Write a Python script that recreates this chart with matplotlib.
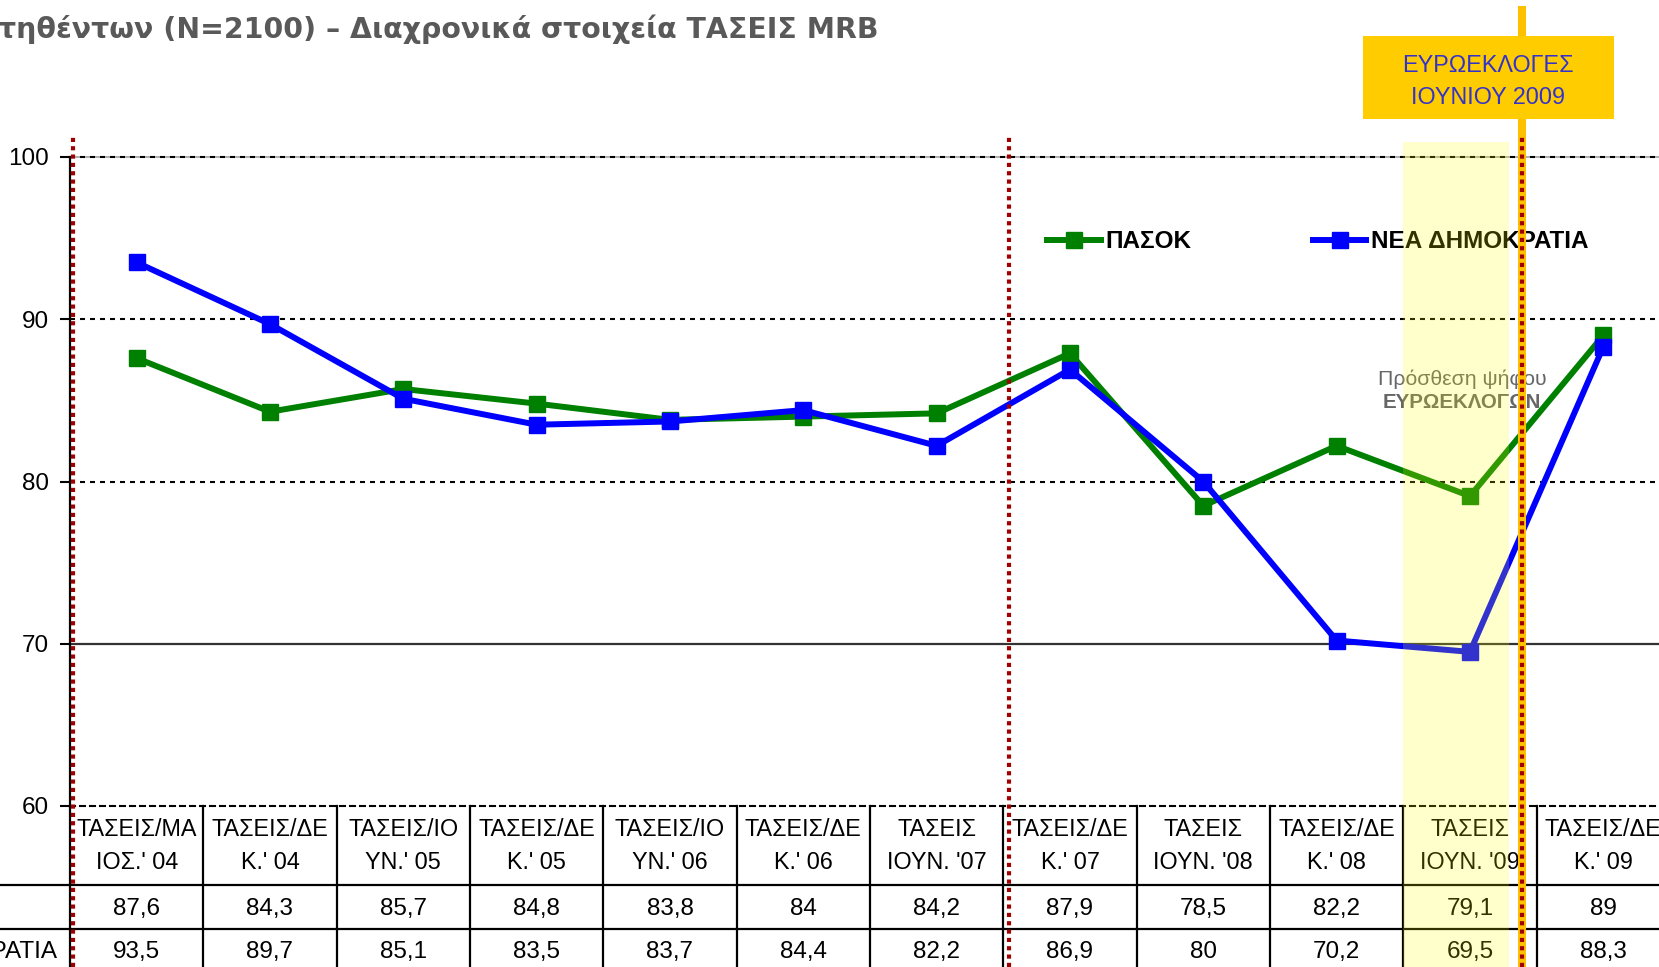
import matplotlib
matplotlib.use("Agg")
import matplotlib.pyplot as plt
from matplotlib.lines import Line2D
from matplotlib.patches import Rectangle
from matplotlib.transforms import blended_transform_factory

# ---------------- data ----------------
categories = ["ΤΑΣΕΙΣ/ΜΑ\nΙΟΣ.' 04", "ΤΑΣΕΙΣ/ΔΕ\nΚ.' 04", "ΤΑΣΕΙΣ/ΙΟ\nΥΝ.' 05",
              "ΤΑΣΕΙΣ/ΔΕ\nΚ.' 05", "ΤΑΣΕΙΣ/ΙΟ\nΥΝ.' 06", "ΤΑΣΕΙΣ/ΔΕ\nΚ.' 06",
              "ΤΑΣΕΙΣ\nΙΟΥΝ. '07", "ΤΑΣΕΙΣ/ΔΕ\nΚ.' 07", "ΤΑΣΕΙΣ\nΙΟΥΝ. '08",
              "ΤΑΣΕΙΣ/ΔΕ\nΚ.' 08", "ΤΑΣΕΙΣ\nΙΟΥΝ. '09", "ΤΑΣΕΙΣ/ΔΕ\nΚ.' 09"]
pasok = [87.6, 84.3, 85.7, 84.8, 83.8, 84, 84.2, 87.9, 78.5, 82.2, 79.1, 89]
nd = [93.5, 89.7, 85.1, 83.5, 83.7, 84.4, 82.2, 86.9, 80, 70.2, 69.5, 88.3]
series_names = ["ΠΑΣΟΚ", "ΝΕΑ ΔΗΜΟΚΡΑΤΙΑ"]
yticks = [60, 70, 80, 90, 100]
title = "τηθέντων (N=2100) – Διαχρονικά στοιχεία ΤΑΣΕΙΣ MRB"
box_text = "ΕΥΡΩΕΚΛΟΓΕΣ\nΙΟΥΝΙΟΥ 2009"
note_lines = ["Πρόσθεση ψήφου", "ΕΥΡΩΕΚΛΟΓΩΝ"]
highlight_idx = 10

# ---------------- layout ----------------
W, H = 1659, 967
FONT = ["Liberation Sans", "DejaVu Sans"]
plt.rcParams["font.family"] = FONT

def fx(px):
    return px / W

def fy(py):
    return 1 - py / H

fig = plt.figure(figsize=(W / 100, H / 100), dpi=100)
fig.patch.set_facecolor("white")

top_px, bot_px, left_px, colw = 157, 806, 70, 133.33
n = len(categories)
ax = fig.add_axes([fx(left_px), fy(bot_px), n * colw / W, (bot_px - top_px) / H])
ax.set_xlim(0, n)
ax.set_ylim(60, 100)
ax.set_facecolor("none")

for s in ["top", "right"]:
    ax.spines[s].set_visible(False)
ax.spines["left"].set_linewidth(1.6)
ax.spines["left"].set_color("black")
ax.spines["bottom"].set_linestyle((0, (2.4, 2.4)))
ax.spines["bottom"].set_linewidth(1.5)
ax.set_xticks([])
ax.set_yticks(yticks)
ax.set_yticklabels([str(t) for t in yticks])
ax.tick_params(axis="y", length=7, width=1.5, pad=8, labelsize=17.5)

# gridlines
dot = (0, (2.4, 2.4))
ax.axhline(100, color="#A0A0A0", lw=1.2, zorder=1, clip_on=False)
for g in [80, 90, 100]:
    ax.axhline(g, color="black", lw=1.5, ls=dot, zorder=1, clip_on=False)
ax.axhline(70, color="#333333", lw=1.6, zorder=1)

x = [i + 0.5 for i in range(n)]
ax.plot(x, pasok, color="#008000", lw=4.3, marker="s", ms=11, label=series_names[0], zorder=3)
ax.plot(x, nd, color="#0000FF", lw=4.3, marker="s", ms=11, label=series_names[1], zorder=4)

leg = ax.legend(loc="center left", bbox_to_anchor=((1035 - left_px) / (n * colw), (bot_px - 242) / (bot_px - top_px)),
                ncol=2, frameon=False, borderpad=0, handlelength=2.2, handletextpad=0.2,
                columnspacing=5.0, prop={"weight": "bold", "size": 17.5})

# annotation
ax.text(10.44, 86.3, note_lines[0], ha="center", va="center", fontsize=15.3, color="#666666", zorder=5)
ax.text(10.44, 84.84, note_lines[1], ha="center", va="center", fontsize=14.8, color="#666666",
        weight="bold", zorder=5)

# ---------------- table ----------------
tab = fig.add_axes([fx(left_px), 0, n * colw / W, (H - bot_px) / H])
tab.set_xlim(0, n)
tab.set_ylim(H, bot_px)
tab.axis("off")
row_lines = [885, 929]
for ry in row_lines:
    tab.plot([-left_px / colw, n], [ry, ry], color="black", lw=1.6, clip_on=False)
for b in range(1, n):
    tab.plot([b, b], [bot_px, H], color="black", lw=1.6, clip_on=False)
tab.plot([0, 0], [bot_px, H], color="black", lw=1.6, clip_on=False)

for i, lab in enumerate(categories):
    l1, l2 = lab.split("\n")
    tab.text(i + 0.5, 830, l1, ha="center", va="center", fontsize=16.8)
    tab.text(i + 0.5, 863, l2, ha="center", va="center", fontsize=16.8)

def fmt(v):
    return f"{v:g}".replace(".", ",")

for i in range(n):
    tab.text(i + 0.5, 909, fmt(pasok[i]), ha="center", va="center", fontsize=17.5)
    tab.text(i + 0.5, 952, fmt(nd[i]), ha="center", va="center", fontsize=17.5)
for name, ry in zip(series_names, [909, 952]):
    tab.text(-0.88, ry, name, ha="center", va="center", fontsize=17.5, clip_on=False)

# ---------------- overlays spanning chart + table ----------------
bt = blended_transform_factory(ax.transData, fig.transFigure)
fig.add_artist(Rectangle((highlight_idx, 0), 0.795, fy(142), transform=bt,
                         facecolor="#FFFF00", alpha=0.2, edgecolor="none", zorder=5))
event_x = 10.89
fig.add_artist(Line2D([event_x, event_x], [0, fy(6)], transform=bt, color="#FFC000", lw=5.8,
                      solid_capstyle="butt", zorder=6))
for vx in [0.02, 7.04, event_x]:
    fig.add_artist(Line2D([vx, vx], [0, fy(136)], transform=bt, color="#A00000", lw=3.0,
                          ls=(0, (1, 1)), zorder=7))

# event box
fig.add_artist(Rectangle((fx(1363), fy(119)), fx(1614) - fx(1363), fy(36) - fy(119),
                         transform=fig.transFigure, facecolor="#FFCC00", edgecolor="none", zorder=8))
b1, b2 = box_text.split("\n")
fig.text(fx(1488), fy(65), b1, ha="center", va="center", fontsize=16.8, color="#3333CC", zorder=9)
fig.text(fx(1488), fy(97), b2, ha="center", va="center", fontsize=16.8, color="#3333CC", zorder=9)

# title
fig.text(fx(878), fy(29), title, ha="right", va="center", fontsize=20.4, weight="bold", color="#595959",
         family=["DejaVu Sans"])

fig.savefig("out.png", dpi=100)
